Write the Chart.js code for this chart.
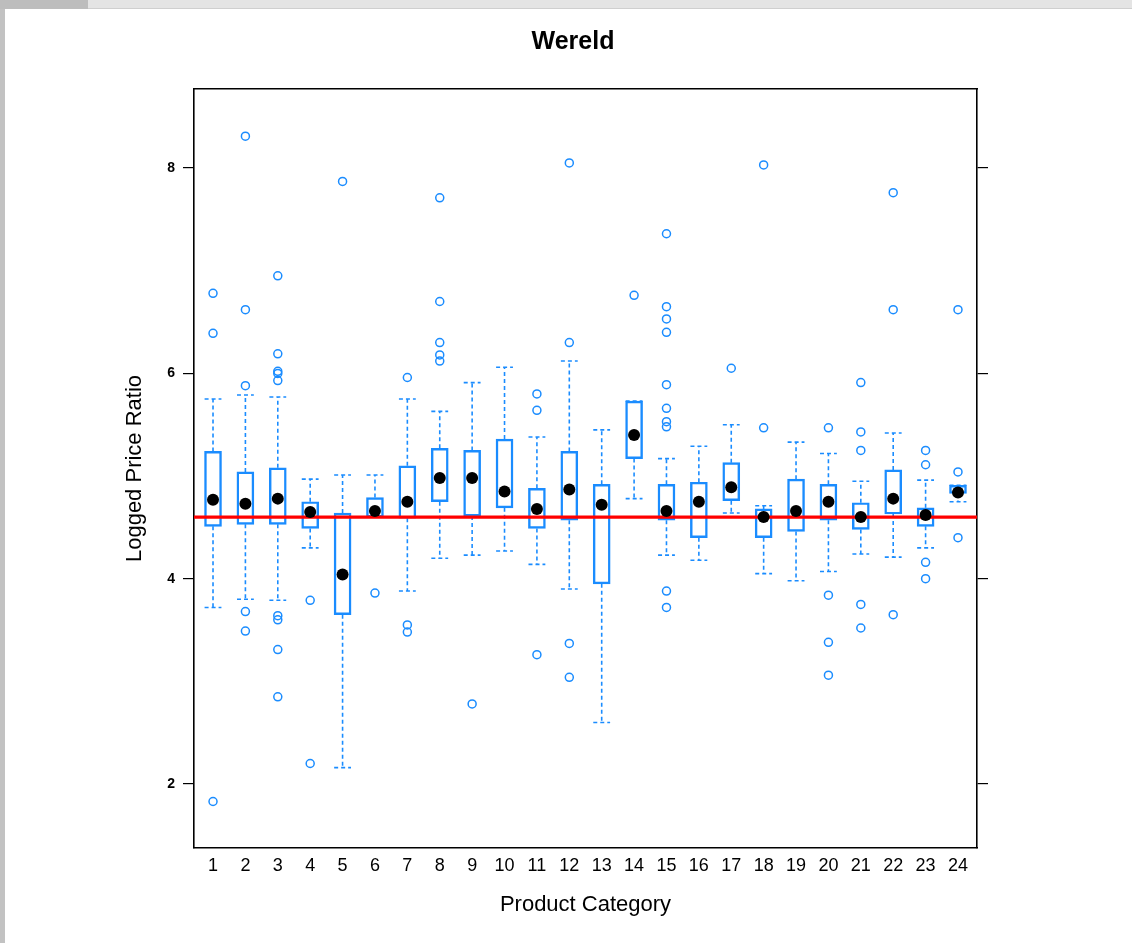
<!DOCTYPE html>
<html>
<head>
<meta charset="utf-8">
<title>Wereld</title>
<script src="https://cdn.jsdelivr.net/npm/chart.js@4.4.1/dist/chart.umd.min.js"></script>
<style>
  html, body { margin: 0; padding: 0; background: #fff; }
  #wrap { position: relative; width: 1132px; height: 943px; overflow: hidden; background: #fff; }
  #chart { position: absolute; left: 0; top: 0; }
  .strip { position: absolute; }
  #title {
    position: absolute; top: 26px; left: 473px; width: 200px; line-height: 28px;
    text-align: center; font: bold 25px "Liberation Sans", Arial, sans-serif; color: #000;
  }
</style>
</head>
<body>
<div id="wrap">
  <canvas id="chart" width="1132" height="943"></canvas>
  <div class="strip" style="left:0;top:0;width:1132px;height:8px;background:#e4e4e4;border-bottom:1px solid #cfcfcf"></div>
  <div class="strip" style="left:0;top:0;width:88px;height:9px;background:#bdbdbd"></div>
  <div class="strip" style="left:0;top:9px;width:5px;height:934px;background:#c2c2c2"></div>
  <div id="title">Wereld</div>
</div>
<script>
// Product categories and box statistics
const categories = [1, 2, 3, 4, 5, 6, 7, 8, 9, 10, 11, 12, 13, 14, 15, 16, 17, 18, 19, 20, 21, 22, 23, 24];
const lowerWhisker = [3.72, 3.80, 3.79, 4.30, 2.16, 4.60, 3.88, 4.20, 4.23, 4.27, 4.14, 3.90,
                      2.60, 4.78, 4.23, 4.18, 4.64, 4.05, 3.98, 4.07, 4.24, 4.21, 4.30, 4.75];
const boxLow = [4.51, 4.53, 4.53, 4.49, 3.65, 4.60, 4.59, 4.75, 4.61, 4.69, 4.49, 4.57,
                3.95, 5.17, 4.57, 4.40, 4.76, 4.40, 4.46, 4.57, 4.48, 4.63, 4.51, 4.83];
const medians = [4.77, 4.73, 4.78, 4.65, 4.04, 4.66, 4.75, 4.98, 4.98, 4.85, 4.68, 4.87,
                 4.72, 5.40, 4.66, 4.75, 4.89, 4.60, 4.66, 4.75, 4.60, 4.78, 4.62, 4.84];
const boxHigh = [5.24, 5.04, 5.08, 4.75, 4.64, 4.79, 5.10, 5.27, 5.25, 5.36, 4.88, 5.24,
                 4.92, 5.73, 4.92, 4.94, 5.13, 4.68, 4.97, 4.92, 4.74, 5.06, 4.69, 4.91];
const upperWhisker = [5.75, 5.79, 5.77, 4.97, 5.01, 5.01, 5.75, 5.63, 5.91, 6.06, 5.38, 6.12,
                      5.45, 5.73, 5.17, 5.29, 5.50, 4.71, 5.33, 5.22, 4.95, 5.42, 4.96, 4.91];
const outliers = [
  [6.78, 6.39, 1.83],
  [8.31, 6.62, 5.88, 3.68, 3.49],
  [6.95, 6.19, 6.02, 6.00, 5.93, 3.64, 3.60, 3.31, 2.85],
  [3.79, 2.20],
  [7.87],
  [3.86],
  [5.96, 3.55, 3.48],
  [7.71, 6.70, 6.30, 6.18, 6.12],
  [2.78],
  [],
  [5.80, 5.64, 3.26],
  [8.05, 6.30, 3.37, 3.04],
  [],
  [6.76],
  [7.36, 6.65, 6.53, 6.40, 5.89, 5.66, 5.53, 5.48, 3.88, 3.72],
  [],
  [6.05],
  [8.03, 5.47],
  [],
  [5.47, 3.84, 3.38, 3.06],
  [5.91, 5.43, 5.25, 3.75, 3.52],
  [7.76, 6.62, 3.65],
  [5.25, 5.11, 4.16, 4.00],
  [6.62, 5.04, 4.40]
];
const yTicks = [2, 4, 6, 8];
const refLine = 4.6;

const yMin = 1.377, yMax = 8.77;
const xPad = 0.587;
const xMin = categories[0] - xPad, xMax = categories[categories.length - 1] + xPad;
const capHalf = 0.26;

const blue = "#1a8cff";
const fontFamily = '"Liberation Sans", Arial, Helvetica, sans-serif';

const boxData = categories.map((c, i) => ({ x: c, y: [boxLow[i], boxHigh[i]] }));
const medianData = categories.map((c, i) => ({ x: c, y: medians[i] }));
const outlierData = categories.flatMap((c, i) => outliers[i].map(v => ({ x: c, y: v })));
const whiskerData = categories.flatMap((c, i) => [
  { x: c, y: boxHigh[i] }, { x: c, y: upperWhisker[i] }, { x: c, y: null },
  { x: c, y: boxLow[i] }, { x: c, y: lowerWhisker[i] }, { x: c, y: null }
]);
const capData = categories.flatMap((c, i) => [
  { x: c - capHalf, y: upperWhisker[i] }, { x: c + capHalf, y: upperWhisker[i] }, { x: c, y: null },
  { x: c - capHalf, y: lowerWhisker[i] }, { x: c + capHalf, y: lowerWhisker[i] }, { x: c, y: null }
]);

const ctx = document.getElementById("chart").getContext("2d");
new Chart(ctx, {
  type: "bar",
  data: {
    datasets: [
      // medians (drawn on top)
      {
        type: "line", data: medianData, showLine: false,
        pointRadius: 6, pointStyle: "circle",
        pointBackgroundColor: "#000", pointBorderColor: "#000", pointBorderWidth: 0
      },
      // reference line
      {
        type: "line", data: [{ x: xMin, y: refLine }, { x: xMax, y: refLine }],
        borderColor: "#ff0000", borderWidth: 3.2, pointRadius: 0
      },
      // outliers
      {
        type: "line", data: outlierData, showLine: false,
        pointRadius: 4, pointStyle: "circle",
        pointBackgroundColor: "rgba(0,0,0,0)", pointBorderColor: blue, pointBorderWidth: 1.5
      },
      // whisker caps
      {
        type: "line", data: capData, borderColor: blue, borderWidth: 1.6,
        borderDash: [4, 3], pointRadius: 0, spanGaps: false
      },
      // whiskers
      {
        type: "line", data: whiskerData, borderColor: blue, borderWidth: 1.6,
        borderDash: [4, 3], pointRadius: 0, spanGaps: false
      },
      // boxes
      {
        type: "bar", data: boxData, barThickness: 17,
        backgroundColor: "rgba(0,0,0,0)", borderColor: blue, borderWidth: 1.8,
        borderSkipped: false
      }
    ]
  },
  options: {
    responsive: false,
    animation: false,
    devicePixelRatio: 1,
    events: [],
    layout: { padding: { left: 0, top: 89, right: 144, bottom: 20 } },
    plugins: {
      legend: { display: false },
      tooltip: { enabled: false },
      title: { display: false }
    },
    scales: {
      x: {
        type: "linear", position: "bottom", min: xMin, max: xMax, offset: false,
        afterBuildTicks: s => { s.ticks = categories.map(c => ({ value: c })); },
        afterFit: s => { s.height = 75; },
        grid: { display: true, drawOnChartArea: false, drawTicks: false },
        border: { display: true, color: "#000", width: 1.6 },
        ticks: {
          autoSkip: false, maxRotation: 0, padding: 7, color: "#000",
          font: { family: fontFamily, size: 18 }
        },
        title: {
          display: true, text: "Product Category", color: "#000",
          font: { family: fontFamily, size: 22 }, padding: { top: 0, bottom: 5 }
        }
      },
      xt: {
        type: "linear", position: "top", min: xMin, max: xMax, offset: false,
        afterFit: s => { s.height = 0; },
        grid: { display: true, drawOnChartArea: false, drawTicks: false },
        border: { display: true, color: "#000", width: 1.6 },
        ticks: { display: false }
      },
      y: {
        type: "linear", position: "left", min: yMin, max: yMax,
        afterBuildTicks: s => { s.ticks = yTicks.map(v => ({ value: v })); },
        afterFit: s => { s.width = 194; },
        grid: { display: true, drawOnChartArea: false, drawTicks: true, tickLength: 11, color: "#000", lineWidth: 1.2 },
        border: { display: true, color: "#000", width: 1.6 },
        ticks: {
          padding: 8, color: "#000",
          font: { family: fontFamily, size: 14, weight: "bold" }
        },
        title: {
          display: true, text: "Logged Price Ratio", color: "#000",
          font: { family: fontFamily, size: 22 }, padding: { top: 122, bottom: 0 }
        }
      },
      yr: {
        type: "linear", position: "right", min: yMin, max: yMax,
        afterBuildTicks: s => { s.ticks = yTicks.map(v => ({ value: v })); },
        afterFit: s => { s.width = 11; },
        grid: { display: true, drawOnChartArea: false, drawTicks: true, tickLength: 11, color: "#000", lineWidth: 1.2 },
        border: { display: true, color: "#000", width: 1.6 },
        ticks: { display: false }
      }
    }
  }
});
</script>
</body>
</html>
